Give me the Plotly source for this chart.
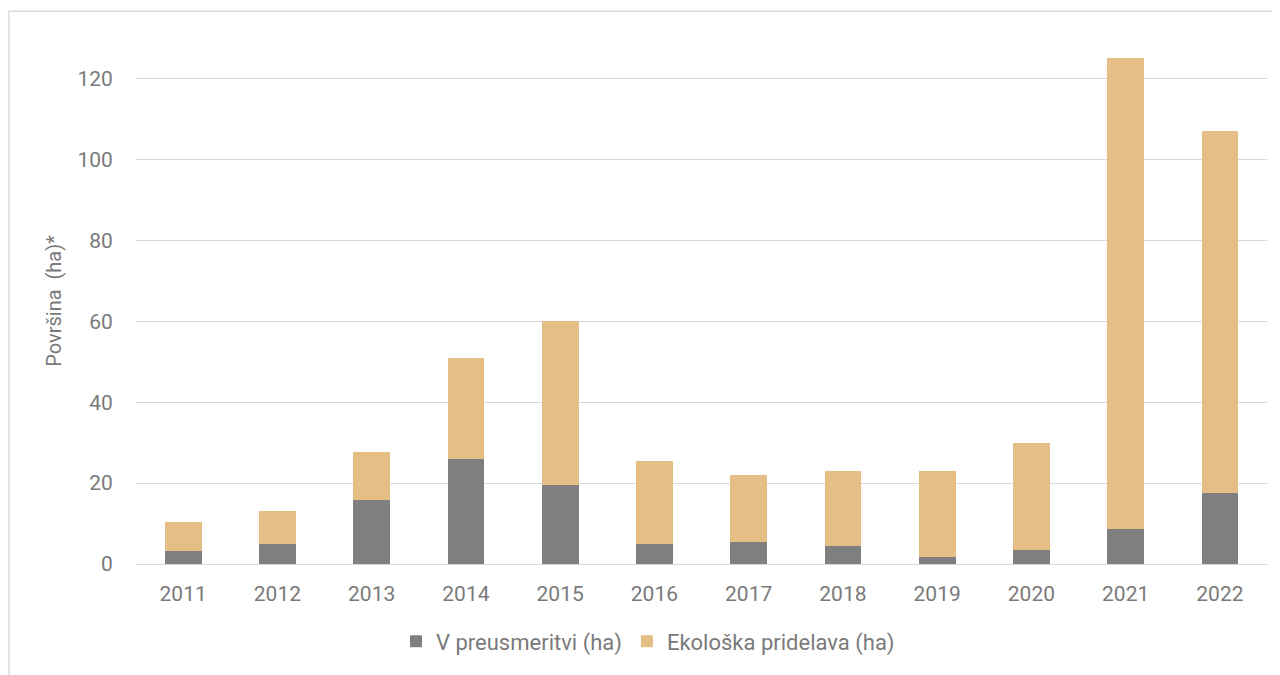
import plotly.graph_objects as go

years = ["2011", "2012", "2013", "2014", "2015", "2016", "2017", "2018", "2019", "2020", "2021", "2022"]
v_preusmeritvi = [3.2, 4.9, 15.8, 25.9, 19.5, 4.9, 5.4, 4.4, 1.7, 3.4, 8.6, 17.5]
ekoloska = [7.1, 8.2, 11.8, 25.1, 40.6, 20.5, 16.5, 18.5, 21.2, 26.6, 116.5, 89.4]

name_v = "V preusmeritvi (ha)"
name_e = "Ekološka pridelava (ha)"

font_color = "#7a7a7a"

# page body has an 8px margin, so the figure is drawn offset by 8px
W, H = 1272, 667
L, R, T, B = 128, 13, 30, 108
plot_w = W - L - R
plot_h = H - T - B

fig = go.Figure()
fig.add_trace(go.Bar(x=years, y=v_preusmeritvi, name=name_v,
                     marker=dict(color="#7f7f7f", line=dict(width=0))))
fig.add_trace(go.Bar(x=years, y=ekoloska, name=name_e,
                     marker=dict(color="#e4be84", line=dict(width=0))))

fig.update_layout(
    barmode="stack",
    bargap=0.61,
    width=W, height=H,
    margin=dict(l=L, r=R, t=T, b=B),
    paper_bgcolor="white", plot_bgcolor="white",
    font=dict(family="Roboto", size=21, color=font_color),
    legend=dict(orientation="h", x=(640 - L) / plot_w, xanchor="center",
                y=(H - B - 637) / plot_h, yanchor="middle",
                font=dict(size=22, color=font_color), itemwidth=30, traceorder="normal"),
    xaxis=dict(showline=False, ticks="outside", ticklen=11, tickcolor="rgba(0,0,0,0)",
               tickfont=dict(size=21, color=font_color)),
    yaxis=dict(range=[0, 130], dtick=20, showgrid=True, gridcolor="#d9d9d9", gridwidth=1,
               zeroline=True, zerolinecolor="#d9d9d9", zerolinewidth=1,
               ticks="outside", ticklen=18, tickcolor="rgba(0,0,0,0)",
               tickfont=dict(size=21, color=font_color),
               title=dict(text="Površina  (ha)*", standoff=10,
                          font=dict(size=20, color=font_color))),
    shapes=[dict(type="rect", xref="paper", yref="paper",
                 x0=(1 - L) / plot_w, x1=1.2, y0=-0.5, y1=(H - B - 3) / plot_h,
                 line=dict(color="#d9d9d9", width=1.5), fillcolor="rgba(0,0,0,0)", layer="below")],
)

fig.write_html("out.html")
